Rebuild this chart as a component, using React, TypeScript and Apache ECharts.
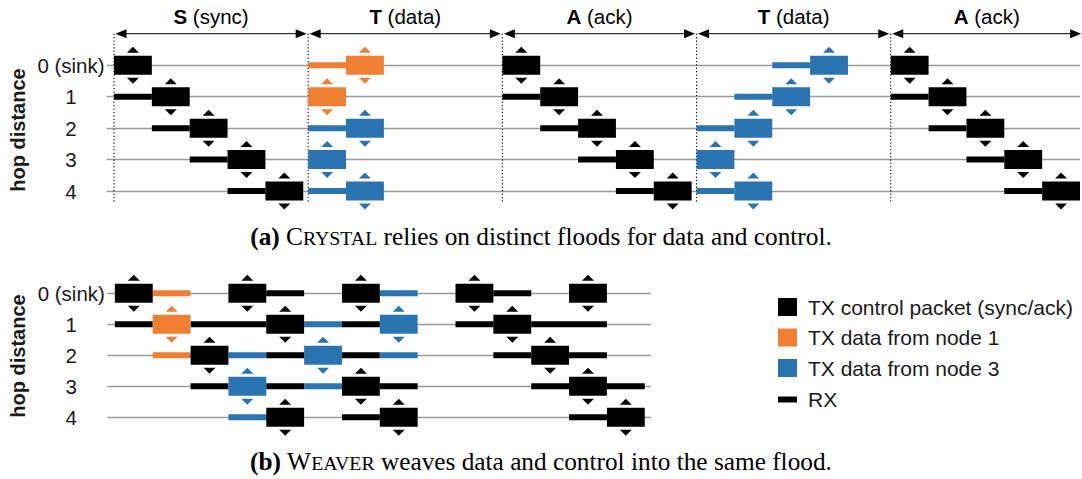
import { useEffect, useRef } from "react";
import * as echarts from "echarts";

// ---------- data ----------
const HOP_LABELS = ["0 (sink)", "1", "2", "3", "4"];
const PHASE_TITLES = ["S", "T", "A", "T", "A"];
const PHASE_NOTES = ["(sync)", "(data)", "(ack)", "(data)", "(ack)"];
// phase boundaries in slot units (top panel)
const PHASE_BOUNDS = [0, 5.13, 10.26, 15.39, 20.52, 25.59];

const PALETTE: Record<string, string> = { K: "#000000", O: "#EF7F33", B: "#2A74B1" };

// Top panel (Crystal): [phase, slot, hop, color]
const TOP_TX: [number, number, number, string][] = [
  [0, 0, 0, "K"], [0, 1, 1, "K"], [0, 2, 2, "K"], [0, 3, 3, "K"], [0, 4, 4, "K"],
  [1, 1, 0, "O"], [1, 0, 1, "O"], [1, 1, 2, "B"], [1, 0, 3, "B"], [1, 1, 4, "B"],
  [2, 0, 0, "K"], [2, 1, 1, "K"], [2, 2, 2, "K"], [2, 3, 3, "K"], [2, 4, 4, "K"],
  [3, 3, 0, "B"], [3, 2, 1, "B"], [3, 1, 2, "B"], [3, 0, 3, "B"], [3, 1, 4, "B"],
  [4, 0, 0, "K"], [4, 1, 1, "K"], [4, 2, 2, "K"], [4, 3, 3, "K"], [4, 4, 4, "K"],
];
// [phase, slot, hop, length, color]
const TOP_RX: [number, number, number, number, string][] = [
  [0, 0, 1, 1, "K"], [0, 1, 2, 1, "K"], [0, 2, 3, 1, "K"], [0, 3, 4, 1, "K"],
  [1, 0, 0, 1, "O"], [1, 0, 2, 1, "B"], [1, 0, 4, 1, "B"],
  [2, 0, 1, 1, "K"], [2, 1, 2, 1, "K"], [2, 2, 3, 1, "K"], [2, 3, 4, 1, "K"],
  [3, 2, 0, 1, "B"], [3, 1, 1, 1, "B"], [3, 0, 2, 1, "B"], [3, 0, 4, 1, "B"],
  [4, 0, 1, 1, "K"], [4, 1, 2, 1, "K"], [4, 2, 3, 1, "K"], [4, 3, 4, 1, "K"],
];

// Bottom panel (Weaver): [slot, hop, color]
const BOTTOM_TX: [number, number, string][] = [
  [0, 0, "K"], [3, 0, "K"], [6, 0, "K"], [9, 0, "K"], [12, 0, "K"],
  [1, 1, "O"], [4, 1, "K"], [7, 1, "B"], [10, 1, "K"],
  [2, 2, "K"], [5, 2, "B"], [11, 2, "K"],
  [3, 3, "B"], [6, 3, "K"], [12, 3, "K"],
  [4, 4, "K"], [7, 4, "K"], [13, 4, "K"],
];
// [slot, hop, length, color]
const BOTTOM_RX: [number, number, number, string][] = [
  [1, 0, 1, "O"], [4, 0, 1, "K"], [7, 0, 1, "B"], [10, 0, 1, "K"],
  [0, 1, 1, "K"], [2, 1, 2, "K"], [5, 1, 1, "B"], [6, 1, 1, "K"], [9, 1, 1, "K"], [11, 1, 2, "K"],
  [1, 2, 1, "O"], [3, 2, 1, "B"], [4, 2, 1, "K"], [6, 2, 1, "K"], [7, 2, 1, "B"], [10, 2, 1, "K"], [12, 2, 1, "K"],
  [2, 3, 1, "K"], [4, 3, 1, "K"], [5, 3, 1, "B"], [7, 3, 1, "K"], [11, 3, 1, "K"], [13, 3, 1, "K"],
  [3, 4, 1, "B"], [6, 4, 1, "K"], [12, 4, 1, "K"],
];

const LEGEND_LABELS = ["TX control packet (sync/ack)", "TX data from node 1", "TX data from node 3", "RX"];
const LEGEND_COLORS = ["K", "O", "B", "K"];
const LEGEND_IS_RX = [false, false, false, true];

const SANS = "'Liberation Sans', Arial, Helvetica, sans-serif";
const SERIF = "'Liberation Serif', 'DejaVu Serif', serif";
const TEXT_COLOR = "#1a1a1a";

function txSeries(gridIndex: number, data: number[][], colors: string[]) {
  return {
    type: "custom",
    xAxisIndex: gridIndex,
    yAxisIndex: gridIndex,
    encode: { x: 0, y: 1 },
    data,
    z: 3,
    renderItem: (params: any, api: any) => {
      const x = api.value(0);
      const h = api.value(1);
      const c = PALETTE[colors[params.dataIndex]];
      const p0 = api.coord([x, h]);
      const p1 = api.coord([x + 1, h]);
      const cx = (p0[0] + p1[0]) / 2;
      const y = p0[1];
      return {
        type: "group",
        children: [
          { type: "rect", shape: { x: p0[0], y: y - 9.5, width: p1[0] - p0[0], height: 19 }, style: { fill: c } },
          { type: "polygon", shape: { points: [[cx - 6, y - 12.5], [cx + 6, y - 12.5], [cx, y - 18.5]] }, style: { fill: c } },
          { type: "polygon", shape: { points: [[cx - 6, y + 12.5], [cx + 6, y + 12.5], [cx, y + 18.5]] }, style: { fill: c } },
        ],
      };
    },
  };
}

function rxSeries(gridIndex: number, data: number[][], colors: string[]) {
  return {
    type: "custom",
    xAxisIndex: gridIndex,
    yAxisIndex: gridIndex,
    encode: { x: 0, y: 1 },
    data,
    z: 2,
    renderItem: (params: any, api: any) => {
      const x = api.value(0);
      const h = api.value(1);
      const len = api.value(2);
      const c = PALETTE[colors[params.dataIndex]];
      const p0 = api.coord([x, h]);
      const p1 = api.coord([x + len, h]);
      return {
        type: "rect",
        shape: { x: p0[0], y: p0[1] - 3, width: p1[0] - p0[0], height: 6 },
        style: { fill: c },
      };
    },
  };
}

function yAxisFor(gridIndex: number) {
  return {
    type: "category",
    gridIndex,
    data: HOP_LABELS,
    inverse: true,
    boundaryGap: false,
    axisLine: { show: false },
    axisTick: { show: false },
    axisLabel: {
      interval: 0,
      margin: 36,
      align: "center",
      fontSize: 20.5,
      fontFamily: SANS,
      color: TEXT_COLOR,
    },
    splitLine: { show: true, interval: 0, lineStyle: { color: "#9a9a9a", width: 1.4 } },
  };
}

export default function App() {
  const ref = useRef<HTMLDivElement>(null);

  useEffect(() => {
    if (!ref.current) return;
    const chart = echarts.init(ref.current, undefined, { renderer: "svg" });

    const topTxData = TOP_TX.map(([p, s, h]) => [PHASE_BOUNDS[p] + s, h]);
    const topTxColors = TOP_TX.map((t) => t[3]);
    const topRxData = TOP_RX.map(([p, s, h, l]) => [PHASE_BOUNDS[p] + s, h, l]);
    const topRxColors = TOP_RX.map((t) => t[4]);
    const botTxData = BOTTOM_TX.map(([s, h]) => [s, h]);
    const botTxColors = BOTTOM_TX.map((t) => t[2]);
    const botRxData = BOTTOM_RX.map(([s, h, l]) => [s, h, l]);
    const botRxColors = BOTTOM_RX.map((t) => t[3]);

    const phaseData = PHASE_TITLES.map((_, i) => [PHASE_BOUNDS[i], 0, PHASE_BOUNDS[i + 1]]);

    const phaseRich = {
      b: { fontWeight: "bold", fontSize: 20.5, fontFamily: SANS, color: TEXT_COLOR },
      n: { fontSize: 20.5, fontFamily: SANS, color: TEXT_COLOR },
    };

    const phaseSeries = {
      type: "custom",
      xAxisIndex: 0,
      yAxisIndex: 0,
      encode: { x: 0, y: 1 },
      data: phaseData,
      z: 1,
      renderItem: (params: any, api: any) => {
        const i = params.dataIndex;
        const a = api.coord([api.value(0), 0]);
        const b = api.coord([api.value(2), 0]);
        const d = api.coord([api.value(0), 4]);
        const ay = a[1] - 31.6;
        const xl = a[0] + 1.5;
        const xr = b[0] - 1.5;
        return {
          type: "group",
          children: [
            { type: "line", shape: { x1: xl + 5, y1: ay, x2: xr - 5, y2: ay }, style: { stroke: "#000", lineWidth: 1 } },
            { type: "polygon", shape: { points: [[xl, ay], [xl + 11, ay - 4.5], [xl + 11, ay + 4.5]] }, style: { fill: "#000" } },
            { type: "polygon", shape: { points: [[xr, ay], [xr - 11, ay - 4.5], [xr - 11, ay + 4.5]] }, style: { fill: "#000" } },
            {
              type: "line",
              shape: { x1: a[0], y1: ay, x2: a[0], y2: d[1] + 12 },
              style: { stroke: "#000", lineWidth: 1.1, lineDash: [1.2, 2.2] },
            },
            {
              type: "text",
              style: {
                text: `{b|${PHASE_TITLES[i]}}{n| ${PHASE_NOTES[i]}}`,
                rich: phaseRich,
                x: (a[0] + b[0]) / 2,
                y: ay - 17.6,
                align: "center",
                verticalAlign: "middle",
                textAlign: "center",
                textVerticalAlign: "middle",
              },
            },
          ],
        };
      },
    };

    const capRich = {
      b: { fontWeight: "bold", fontSize: 25.3, fontFamily: SERIF, color: TEXT_COLOR, verticalAlign: "bottom" },
      n: { fontSize: 25.3, fontFamily: SERIF, color: TEXT_COLOR, verticalAlign: "bottom" },
      sc: { fontSize: 19.8, fontFamily: SERIF, color: TEXT_COLOR, verticalAlign: "bottom", padding: [0, 0, 1, 0] },
    };

    const graphics: any[] = [
      {
        type: "text",
        x: 18,
        y: 130,
        rotation: Math.PI / 2,
        style: {
          text: "hop distance",
          font: `bold 20px ${SANS}`,
          fill: TEXT_COLOR,
          align: "center",
          verticalAlign: "middle",
          textAlign: "center",
          textVerticalAlign: "middle",
        },
      },
      {
        type: "text",
        x: 18,
        y: 356,
        rotation: Math.PI / 2,
        style: {
          text: "hop distance",
          font: `bold 20px ${SANS}`,
          fill: TEXT_COLOR,
          align: "center",
          verticalAlign: "middle",
          textAlign: "center",
          textVerticalAlign: "middle",
        },
      },
      {
        type: "text",
        x: 541,
        y: 236,
        style: {
          text: "{b|(a)}{n| C}{sc|RYSTAL}{n| relies on distinct floods for data and control.}",
          rich: capRich,
          align: "center",
          verticalAlign: "middle",
          textAlign: "center",
          textVerticalAlign: "middle",
        },
      },
      {
        type: "text",
        x: 541,
        y: 461,
        style: {
          text: "{b|(b)}{n| W}{sc|EAVER}{n| weaves data and control into the same flood.}",
          rich: capRich,
          align: "center",
          verticalAlign: "middle",
          textAlign: "center",
          textVerticalAlign: "middle",
        },
      },
    ];

    const legendY = [307, 337.5, 368, 399.5];
    LEGEND_LABELS.forEach((label, i) => {
      const isRx = LEGEND_IS_RX[i];
      const hgt = isRx ? 6 : 18;
      graphics.push({
        type: "rect",
        shape: { x: 778, y: legendY[i] - hgt / 2, width: 19, height: hgt },
        style: { fill: PALETTE[LEGEND_COLORS[i]] },
      });
      graphics.push({
        type: "text",
        x: 808,
        y: legendY[i],
        style: {
          text: label,
          font: `21px ${SANS}`,
          fill: TEXT_COLOR,
          align: "left",
          verticalAlign: "middle",
          textAlign: "left",
          textVerticalAlign: "middle",
        },
      });
    });

    chart.setOption({
      animation: false,
      backgroundColor: "#ffffff",
      grid: [
        { left: 107, top: 65.3, width: 973, height: 125.7 },
        { left: 107.3, top: 293.3, width: 543.7, height: 124 },
      ],
      xAxis: [
        { type: "value", gridIndex: 0, min: -0.185, max: 25.52, show: false },
        { type: "value", gridIndex: 1, min: -0.2, max: 14.165, show: false },
      ],
      yAxis: [yAxisFor(0), yAxisFor(1)],
      series: [
        phaseSeries,
        rxSeries(0, topRxData, topRxColors),
        txSeries(0, topTxData, topTxColors),
        rxSeries(1, botRxData, botRxColors),
        txSeries(1, botTxData, botTxColors),
      ],
      graphic: graphics,
    });

    return () => chart.dispose();
  }, []);

  return (
    <div
      ref={ref}
      style={{ position: "fixed", left: 0, top: 0, width: 1082, height: 479, background: "#fff" }}
    />
  );
}
